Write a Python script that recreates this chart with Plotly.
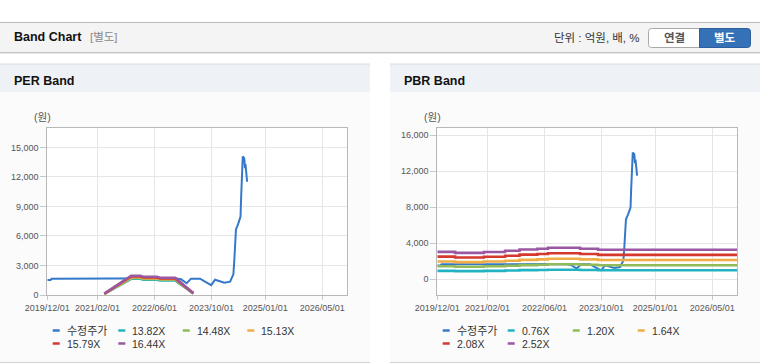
import plotly.graph_objects as go

# ---------------- data ----------------
price_name = "수정주가"
price_dates = [
    "2019-12-01", "2019-12-29", "2020-01-06", "2020-07-01", "2021-01-01",
    "2021-07-01", "2022-01-01", "2022-07-01", "2022-11-24", "2023-01-14",
    "2023-03-03", "2023-04-09", "2023-06-25", "2023-08-06", "2023-09-28",
    "2023-10-31", "2023-12-12", "2024-01-18", "2024-03-07", "2024-04-04",
    "2024-04-12", "2024-04-20", "2024-04-26", "2024-05-14", "2024-06-04",
    "2024-06-09", "2024-06-16", "2024-06-23", "2024-07-06", "2024-07-12",
    "2024-07-16", "2024-07-24", "2024-07-30",
]
price_values = [
    1520, 1520, 1660, 1660, 1660,
    1660, 1660, 1670, 1690, 1593,
    1190, 1660, 1660, 1355, 1000,
    1550, 1355, 1250, 1355, 2100,
    3556, 5080, 6670, 7210, 7960,
    9890, 12020, 14080, 13890, 12900,
    13300, 12360, 11510,
]

per_band_names = ["13.82X", "14.48X", "15.13X", "15.79X", "16.44X"]
per_band_dates = ["2021-03-31", "2021-11-15", "2022-01-29", "2022-02-28",
                  "2022-06-21", "2022-07-20", "2022-11-24", "2023-04-29"]
per_13_82 = [111, 1645, 1645, 1562, 1562, 1479, 1479, 152]
per_14_48 = [116, 1723, 1723, 1636, 1636, 1549, 1549, 159]
per_15_13 = [121, 1800, 1800, 1710, 1710, 1619, 1619, 166]
per_15_79 = [126, 1879, 1879, 1784, 1784, 1690, 1690, 174]
per_16_44 = [132, 1956, 1956, 1858, 1858, 1759, 1759, 181]

pbr_band_names = ["0.76X", "1.20X", "1.64X", "2.08X", "2.52X"]
pbr_band_dates = ["2019-12-01", "2020-05-01", "2021-01-01", "2021-07-01", "2021-11-01",
                  "2022-04-01", "2022-07-01", "2023-04-01", "2023-09-01", "2026-12-01"]
pbr_0_76 = [940, 910, 935, 975, 1015, 1035, 1065, 1035, 1010, 1010]
pbr_1_20 = [1452, 1400, 1447, 1510, 1580, 1619, 1672, 1619, 1567, 1567]
pbr_1_64 = [1984, 1914, 1978, 2063, 2160, 2212, 2285, 2212, 2142, 2142]
pbr_2_08 = [2517, 2427, 2508, 2617, 2739, 2806, 2897, 2806, 2716, 2716]
pbr_2_52 = [3049, 2941, 3039, 3170, 3319, 3399, 3510, 3399, 3291, 3291]

x_tick_vals = ["2019-12-01", "2021-02-01", "2022-06-01", "2023-10-01", "2025-01-01", "2026-05-01"]
x_tick_text = ["2019/12/01", "2021/02/01", "2022/06/01", "2023/10/01", "2025/01/01", "2026/05/01"]
x_range = ["2019-12-01", "2026-12-01"]
per_y_ticks = [0, 3000, 6000, 9000, 12000, 15000]
pbr_y_ticks = [0, 4000, 8000, 12000, 16000]

# ---------------- style ----------------
W, H = 760, 364
FONT = "Liberation Sans, Noto Sans CJK KR, Arial, sans-serif"
price_color = "#3479c9"
band_colors = ["#22b3c3", "#8fbb5b", "#f0ad45", "#d4382f", "#9a58a2"]


def X(px):
    return px / W


def Y(py):
    return 1 - py / H


fig = go.Figure()

per_bands = [per_13_82, per_14_48, per_15_13, per_15_79, per_16_44]
pbr_bands = [pbr_0_76, pbr_1_20, pbr_1_64, pbr_2_08, pbr_2_52]

fig.add_trace(go.Scatter(x=price_dates, y=price_values, name=price_name, mode="lines",
                         line=dict(color=price_color, width=2), xaxis="x", yaxis="y",
                         showlegend=False, hoverinfo="skip"))
for name, vals, col in zip(per_band_names, per_bands, band_colors):
    fig.add_trace(go.Scatter(x=per_band_dates, y=vals, name=name, mode="lines",
                             line=dict(color=col, width=2.6), xaxis="x", yaxis="y",
                             showlegend=False, hoverinfo="skip"))

fig.add_trace(go.Scatter(x=price_dates, y=price_values, name=price_name, mode="lines",
                         line=dict(color=price_color, width=2), xaxis="x2", yaxis="y2",
                         showlegend=False, hoverinfo="skip"))
for name, vals, col in zip(pbr_band_names, pbr_bands, band_colors):
    fig.add_trace(go.Scatter(x=pbr_band_dates, y=vals, name=name, mode="lines",
                             line=dict(color=col, width=2.6, shape="hv"), xaxis="x2", yaxis="y2",
                             showlegend=False, hoverinfo="skip"))

xcommon = dict(type="date", range=x_range, tickmode="array", tickvals=x_tick_vals,
               ticktext=x_tick_text, tickfont=dict(family=FONT, size=9, color="#555"),
               showgrid=True, gridcolor="#e6e6e6", gridwidth=1, showline=True,
               linecolor="#b8b8b8", linewidth=1, mirror=True, ticks="outside",
               ticklen=4, tickcolor="#c8c8c8", zeroline=False, fixedrange=True,
               automargin=False)
ycommon = dict(tickformat=",", tickfont=dict(family=FONT, size=9, color="#555"),
               showgrid=True, gridcolor="#e6e6e6", gridwidth=1, showline=True,
               linecolor="#b8b8b8", linewidth=1, mirror=True, ticks="outside",
               ticklen=6, tickcolor="#c8c8c8", zeroline=False, fixedrange=True,
               automargin=False)

ydom = [Y(295), Y(128.3)]
fig.update_layout(
    xaxis=dict(domain=[X(47.3), X(347.3)], anchor="y", **xcommon),
    yaxis=dict(domain=ydom, anchor="x", range=[0, 16940], tickvals=per_y_ticks, **ycommon),
    xaxis2=dict(domain=[X(437.3), X(737.3)], anchor="y2", **xcommon),
    yaxis2=dict(domain=ydom, anchor="x2", range=[-1744, 16778], tickvals=pbr_y_ticks, **ycommon),
)

shapes = []


def prect(x0, y0, x1, y1, fill, line=None, lw=0):
    shapes.append(dict(type="rect", xref="paper", yref="paper", x0=X(x0), x1=X(x1),
                       y0=Y(y1), y1=Y(y0), fillcolor=fill,
                       line=dict(color=line or fill, width=lw), layer="below"))


def pline(x0, y0, x1, y1, color, width=1, layer="below"):
    shapes.append(dict(type="line", xref="paper", yref="paper", x0=X(x0), x1=X(x1),
                       y0=Y(y0), y1=Y(y1), line=dict(color=color, width=width), layer=layer))


# header bar
prect(0, 22.5, 760, 52.5, "#f4f4f4")
pline(0, 22.5, 760, 22.5, "#b8b8b8")
pline(0, 52.5, 760, 52.5, "#c6c6c6")
pline(0, 53.5, 760, 53.5, "#e6e6e6")

# panels
for px0, px1 in [(0, 370), (390, 760)]:
    prect(px0, 64, px1, 92.5, "#eef1f6")
    prect(px0, 92.5, px1, 362, "#fbfbfb")
    pline(px0, 64, px1, 64, "#d9dce0")
    pline(px0, 362.5, px1, 362.5, "#d2d2d2")


# buttons (rounded)
def rounded_path(x0, y0, x1, y1, r, left=True, right=True):
    rl = r if left else 0
    rr = r if right else 0
    p = f"M {X(x0 + rl)},{Y(y0)} L {X(x1 - rr)},{Y(y0)} "
    if rr:
        p += f"Q {X(x1)},{Y(y0)} {X(x1)},{Y(y0 + rr)} "
    p += f"L {X(x1)},{Y(y1 - rr)} "
    if rr:
        p += f"Q {X(x1)},{Y(y1)} {X(x1 - rr)},{Y(y1)} "
    p += f"L {X(x0 + rl)},{Y(y1)} "
    if rl:
        p += f"Q {X(x0)},{Y(y1)} {X(x0)},{Y(y1 - rl)} "
    p += f"L {X(x0)},{Y(y0 + rl)} "
    if rl:
        p += f"Q {X(x0)},{Y(y0)} {X(x0 + rl)},{Y(y0)} "
    p += "Z"
    return p


shapes.append(dict(type="path", xref="paper", yref="paper",
                   path=rounded_path(648.5, 28.5, 700, 47.5, 3, True, False),
                   fillcolor="#ffffff", line=dict(color="#a9a9a9", width=1), layer="below"))
shapes.append(dict(type="path", xref="paper", yref="paper",
                   path=rounded_path(699.5, 28.5, 750.5, 47.5, 3, False, True),
                   fillcolor="#3571b6", line=dict(color="#2b5f9e", width=1), layer="below"))

# plot area backgrounds
for xr, yr in [("x domain", "y domain"), ("x2 domain", "y2 domain")]:
    shapes.append(dict(type="rect", xref=xr, yref=yr, x0=0, x1=1, y0=0, y1=1,
                       fillcolor="#ffffff", line=dict(width=0), layer="below"))

annotations = []


def text(px, py, s, size=11, color="#333", anchor="left", bold=False):
    annotations.append(dict(x=X(px), y=Y(py), xref="paper", yref="paper", text=s,
                            showarrow=False, xanchor=anchor, yanchor="middle",
                            font=dict(family=FONT, size=size, color=color,
                                      weight=700 if bold else 400)))


text(11.5, 37.5, "Band Chart", 12.5, "#111", bold=True)
text(87.5, 37.5, "[별도]", 11.5, "#8a8a8a")
text(642, 38, "단위 : 억원, 배, %", 11.5, "#333", anchor="right")
text(674, 38, "연결", 11.5, "#555", anchor="center", bold=True)
text(725, 38, "별도", 11.5, "#ffffff", anchor="center", bold=True)
text(11.5, 80.5, "PER Band", 12.5, "#111", bold=True)
text(401.5, 80.5, "PBR Band", 12.5, "#111", bold=True)
text(42.5, 117.5, "(원)", 10.5, "#555", anchor="center")
text(432, 117.5, "(원)", 10.5, "#555", anchor="center")

# legend rows (swatch + label)
left_slots = [(52.7, 330.5), (118.3, 330.5), (182.7, 330.5), (247.3, 330.5), (52.7, 343.5), (118.3, 343.5)]
right_slots = [(442.7, 330.5), (507.7, 330.5), (572.7, 330.5), (637.7, 330.5), (442.7, 343.5), (507.7, 343.5)]
legend_colors = [price_color] + band_colors
for slots, names in [(left_slots, [price_name] + per_band_names),
                     (right_slots, [price_name] + pbr_band_names)]:
    for (sx, sy), nm, col in zip(slots, names, legend_colors):
        pline(sx, sy, sx + 7, sy, col, 2.5, layer="above")
        text(sx + 12, sy, nm, 11 if nm == price_name else 10.5, "#333")

fig.update_layout(
    width=W, height=H, margin=dict(l=0, r=0, t=0, b=0, pad=0, autoexpand=False),
    paper_bgcolor="#ffffff", plot_bgcolor="#ffffff",
    shapes=shapes, annotations=annotations, showlegend=False,
    font=dict(family=FONT), hovermode=False,
)

fig.write_html("out.html", config={"displayModeBar": False},
               post_script="document.body.style.margin='0px';document.body.style.overflow='hidden';")
